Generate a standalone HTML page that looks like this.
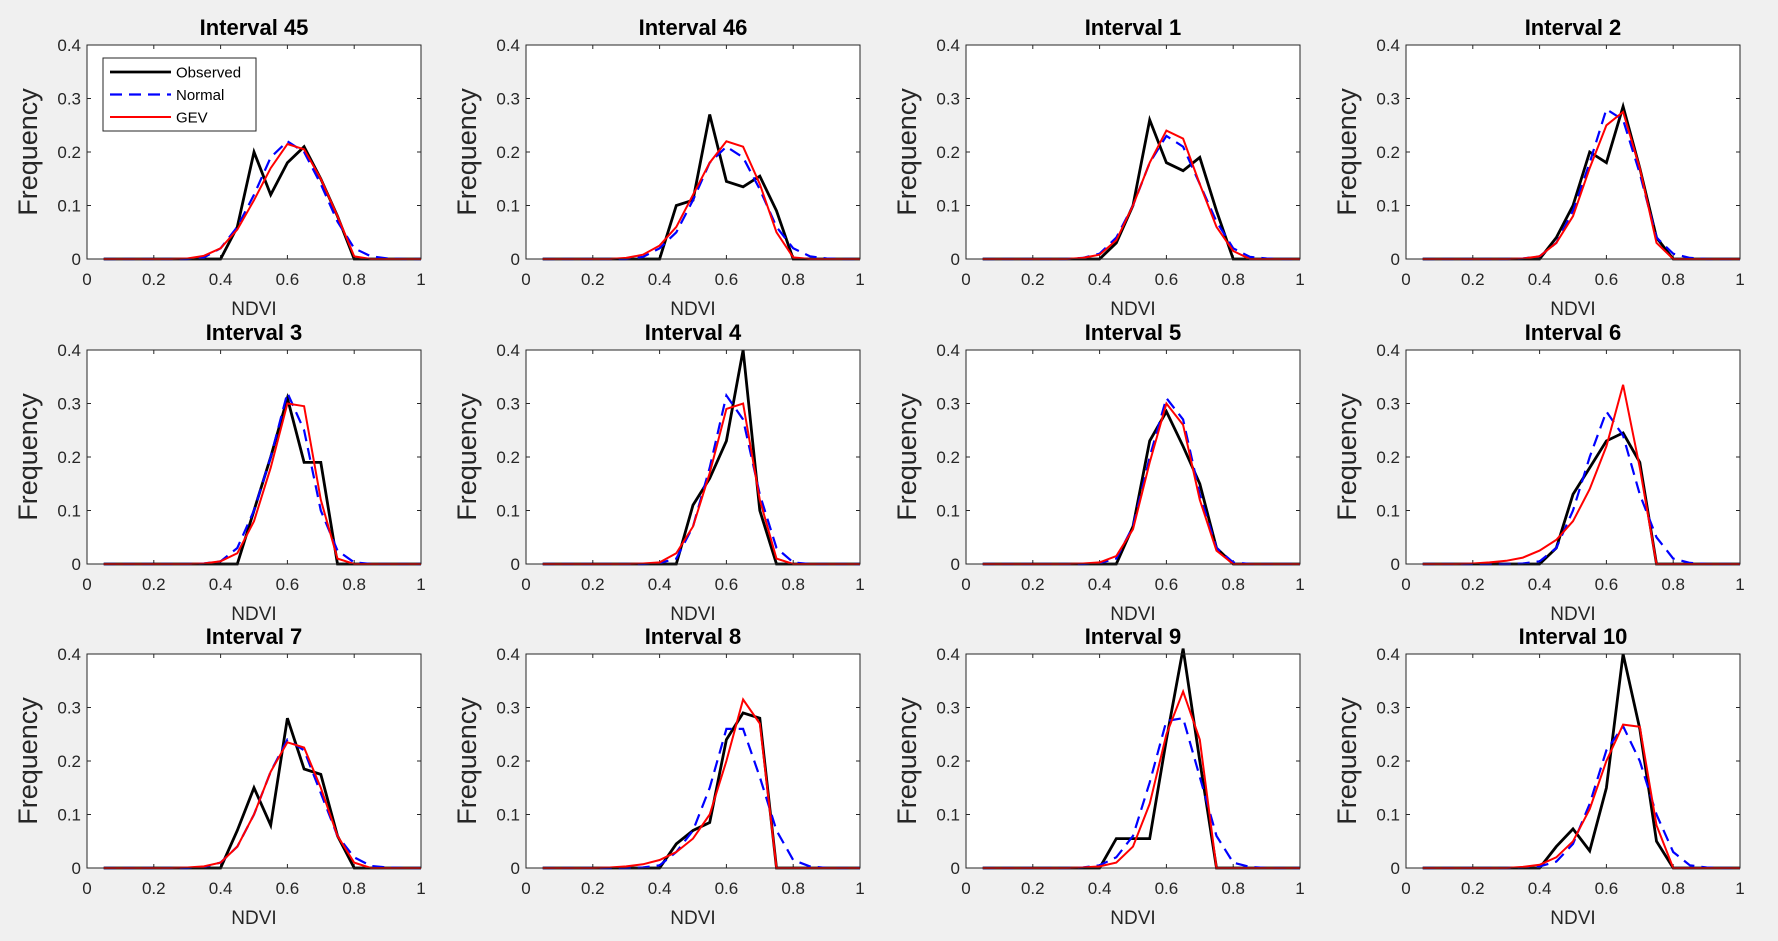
<!DOCTYPE html>
<html><head><meta charset="utf-8"><style>
body{margin:0;background:#f0f0f0;}
svg{display:block;font-family:"Liberation Sans",Arial,sans-serif;}
</style></head><body>
<svg id="fig" width="1778" height="941" viewBox="0 0 1778 941"></svg>
<script>
const xValues=[0.05,0.1,0.15,0.2,0.25,0.3,0.35,0.4,0.45,0.5,0.55,0.6,0.65,0.7,0.75,0.8,0.85,0.9,0.95,1.0];
const titles=["Interval 45","Interval 46","Interval 1","Interval 2","Interval 3","Interval 4","Interval 5","Interval 6","Interval 7","Interval 8","Interval 9","Interval 10"];
const xTicks=[0,0.2,0.4,0.6,0.8,1];
const xTickLabels=["0","0.2","0.4","0.6","0.8","1"];
const yTicks=[0,0.1,0.2,0.3,0.4];
const yTickLabels=["0","0.1","0.2","0.3","0.4"];
const observed=[
[0,0,0,0,0,0,0,0,0.06,0.2,0.12,0.18,0.21,0.15,0.08,0,0,0,0,0],
[0,0,0,0,0,0,0,0,0.1,0.11,0.27,0.145,0.135,0.155,0.09,0,0,0,0,0],
[0,0,0,0,0,0,0,0,0.03,0.1,0.26,0.18,0.165,0.19,0.09,0,0,0,0,0],
[0,0,0,0,0,0,0,0,0.04,0.1,0.2,0.18,0.285,0.17,0.04,0,0,0,0,0],
[0,0,0,0,0,0,0,0,0,0.1,0.2,0.31,0.19,0.19,0,0,0,0,0,0],
[0,0,0,0,0,0,0,0,0,0.11,0.16,0.23,0.4,0.1,0,0,0,0,0,0],
[0,0,0,0,0,0,0,0,0,0.07,0.23,0.285,0.22,0.15,0.03,0,0,0,0,0],
[0,0,0,0,0,0,0,0,0.03,0.13,0.18,0.23,0.245,0.19,0,0,0,0,0,0],
[0,0,0,0,0,0,0,0,0.07,0.15,0.08,0.28,0.185,0.175,0.06,0,0,0,0,0],
[0,0,0,0,0,0,0,0,0.045,0.07,0.085,0.24,0.29,0.28,0,0,0,0,0,0],
[0,0,0,0,0,0,0,0,0.055,0.055,0.055,0.24,0.41,0.2,0,0,0,0,0,0],
[0,0,0,0,0,0,0,0,0.04,0.073,0.032,0.15,0.4,0.26,0.05,0,0,0,0,0]];
const normalFit=[
[0,0,0,0,0,0,0.003,0.02,0.06,0.12,0.19,0.22,0.2,0.14,0.07,0.02,0.005,0.001,0,0],
[0,0,0,0,0,0,0.004,0.02,0.05,0.11,0.18,0.21,0.19,0.13,0.06,0.02,0.005,0.001,0,0],
[0,0,0,0,0,0,0.002,0.01,0.04,0.1,0.18,0.23,0.21,0.14,0.07,0.02,0.004,0.001,0,0],
[0,0,0,0,0,0,0.001,0.005,0.03,0.09,0.18,0.28,0.26,0.16,0.04,0.01,0.002,0,0,0],
[0,0,0,0,0,0,0.001,0.005,0.03,0.1,0.2,0.32,0.25,0.1,0.025,0.003,0,0,0,0],
[0,0,0,0,0,0,0,0.002,0.01,0.07,0.18,0.315,0.27,0.13,0.03,0.003,0,0,0,0],
[0,0,0,0,0,0,0,0.002,0.01,0.07,0.2,0.31,0.27,0.13,0.03,0.003,0,0,0,0],
[0,0,0,0,0,0,0.001,0.005,0.03,0.1,0.2,0.285,0.24,0.13,0.05,0.01,0.002,0,0,0],
[0,0,0,0,0,0,0.002,0.01,0.04,0.1,0.18,0.24,0.22,0.14,0.06,0.02,0.004,0.001,0,0],
[0,0,0,0,0,0,0.001,0.005,0.03,0.07,0.15,0.26,0.26,0.17,0.07,0.015,0.003,0,0,0],
[0,0,0,0,0,0,0.001,0.005,0.02,0.06,0.16,0.275,0.28,0.17,0.06,0.01,0.002,0,0,0],
[0,0,0,0,0,0,0.001,0.003,0.012,0.045,0.12,0.22,0.265,0.2,0.1,0.03,0.005,0.001,0,0]];
const gevFit=[
[0,0,0,0,0,0.001,0.006,0.02,0.055,0.11,0.17,0.215,0.205,0.15,0.08,0.005,0,0,0,0],
[0,0,0,0,0,0.002,0.008,0.025,0.06,0.12,0.18,0.22,0.21,0.14,0.05,0.003,0,0,0,0],
[0,0,0,0,0,0,0.002,0.008,0.035,0.1,0.18,0.24,0.225,0.14,0.06,0.015,0,0,0,0],
[0,0,0,0,0,0,0.001,0.005,0.03,0.08,0.17,0.25,0.275,0.17,0.03,0,0,0,0,0],
[0,0,0,0,0,0,0.001,0.005,0.02,0.08,0.18,0.3,0.295,0.12,0.01,0,0,0,0,0],
[0,0,0,0,0,0,0.001,0.003,0.02,0.07,0.17,0.29,0.3,0.12,0.01,0,0,0,0,0],
[0,0,0,0,0,0,0.001,0.003,0.015,0.065,0.19,0.3,0.26,0.12,0.025,0,0,0,0,0],
[0,0,0,0.001,0.003,0.006,0.012,0.025,0.045,0.08,0.14,0.22,0.335,0.18,0,0,0,0,0,0],
[0,0,0,0,0,0.001,0.003,0.01,0.04,0.1,0.18,0.235,0.225,0.15,0.06,0.01,0,0,0,0],
[0,0,0,0,0.001,0.003,0.007,0.015,0.03,0.055,0.1,0.2,0.315,0.27,0,0,0,0,0,0],
[0,0,0,0,0,0,0.001,0.003,0.01,0.04,0.12,0.25,0.33,0.24,0,0,0,0,0,0],
[0,0,0,0,0,0,0.002,0.006,0.02,0.05,0.11,0.2,0.268,0.264,0.08,0,0,0,0,0]];

const NS="http://www.w3.org/2000/svg";
const svg=document.getElementById('fig');
const colX=[87,526,966,1406], rowY=[45,350,654], W=334, H=214;
function mk(tag,attrs,parent){const e=document.createElementNS(NS,tag);for(const k in attrs)e.setAttribute(k,attrs[k]);(parent||svg).appendChild(e);return e;}
for(let p=0;p<12;p++){
  const x0=colX[p%4], y0=rowY[Math.floor(p/4)];
  const sx=v=>x0+v*W, sy=v=>y0+H-(v/0.4)*H;
  const g=mk('g',{});
  
  
  const bg=mk('rect',{x:x0,y:y0,width:W,height:H,fill:'#fff'},g);
  
  
  // ticks
  xTicks.forEach((t,i)=>{
    mk('line',{x1:sx(t),x2:sx(t),y1:y0+H,y2:y0+H-4,stroke:'#262626','stroke-width':1},g);
    mk('line',{x1:sx(t),x2:sx(t),y1:y0,y2:y0+4,stroke:'#262626','stroke-width':1},g);
    const tl=mk('text',{x:sx(t),y:y0+H+26,'text-anchor':'middle','font-size':17,fill:'#262626'},g);
    tl.textContent=xTickLabels[i];
    
    
  });
  yTicks.forEach((t,i)=>{
    mk('line',{x1:x0,x2:x0+4,y1:sy(t),y2:sy(t),stroke:'#262626','stroke-width':1},g);
    mk('line',{x1:x0+W,x2:x0+W-4,y1:sy(t),y2:sy(t),stroke:'#262626','stroke-width':1},g);
    const tl=mk('text',{x:x0-6,y:sy(t)+6,'text-anchor':'end','font-size':17,fill:'#262626'},g);
    tl.textContent=yTickLabels[i];
    
    
  });
  const series=[[normalFit[p],'#0000ff',2.2,'12,7'],[gevFit[p],'#ff0000',2,''],[observed[p],'#000',2.8,'']];
  // draw order: observed, normal, GEV on top
  const order=[[observed[p],'#000',2.8,'','observed-line'],[normalFit[p],'#0000ff',2.2,'12,7','normal-line'],[gevFit[p],'#ff0000',2,'','gev-line']];
  order.forEach(s=>{
    const pts=xValues.map((xv,i)=>sx(xv).toFixed(1)+','+sy(s[0][i]).toFixed(1)).join(' ');
    const l=mk('polyline',{points:pts,fill:'none',stroke:s[1],'stroke-width':s[2],'stroke-dasharray':s[3],'stroke-linejoin':'miter'},g);
    
    
  });
  const bd=mk('rect',{x:x0,y:y0,width:W,height:H,fill:'none',stroke:'#262626','stroke-width':1},g);
  const tt=mk('text',{x:x0+W/2,y:y0-10,'text-anchor':'middle','font-size':22,'font-weight':'bold',fill:'#000'},g);
  tt.textContent=titles[p];
  
  
  const xl=mk('text',{x:x0+W/2,y:y0+H+56,'text-anchor':'middle','font-size':19,fill:'#262626'},g);
  xl.textContent='NDVI';
  
  
  const yl=mk('text',{x:0,y:0,'text-anchor':'middle','font-size':27,fill:'#262626',transform:`translate(${x0-50},${y0+H/2}) rotate(-90)`},g);
  yl.textContent='Frequency';
  
  
  if(p===0){
    const lg=mk('g',{},g);
    
    
    mk('rect',{x:103,y:58,width:153,height:73,fill:'#fff',stroke:'#262626','stroke-width':1},lg);
    const items=[['Observed','#000',2.8,''],['Normal','#0000ff',2.2,'12,7'],['GEV','#ff0000',2,'']];
    items.forEach((it,i)=>{
      const yy=72+i*22.5;
      mk('line',{x1:110,x2:171,y1:yy,y2:yy,stroke:it[1],'stroke-width':it[2],'stroke-dasharray':it[3]},lg);
      const t=mk('text',{x:176,y:yy+5.5,'font-size':15,fill:'#000'},lg);
      t.textContent=it[0];
      
      
    });
  }
}
</script>
</body></html>
